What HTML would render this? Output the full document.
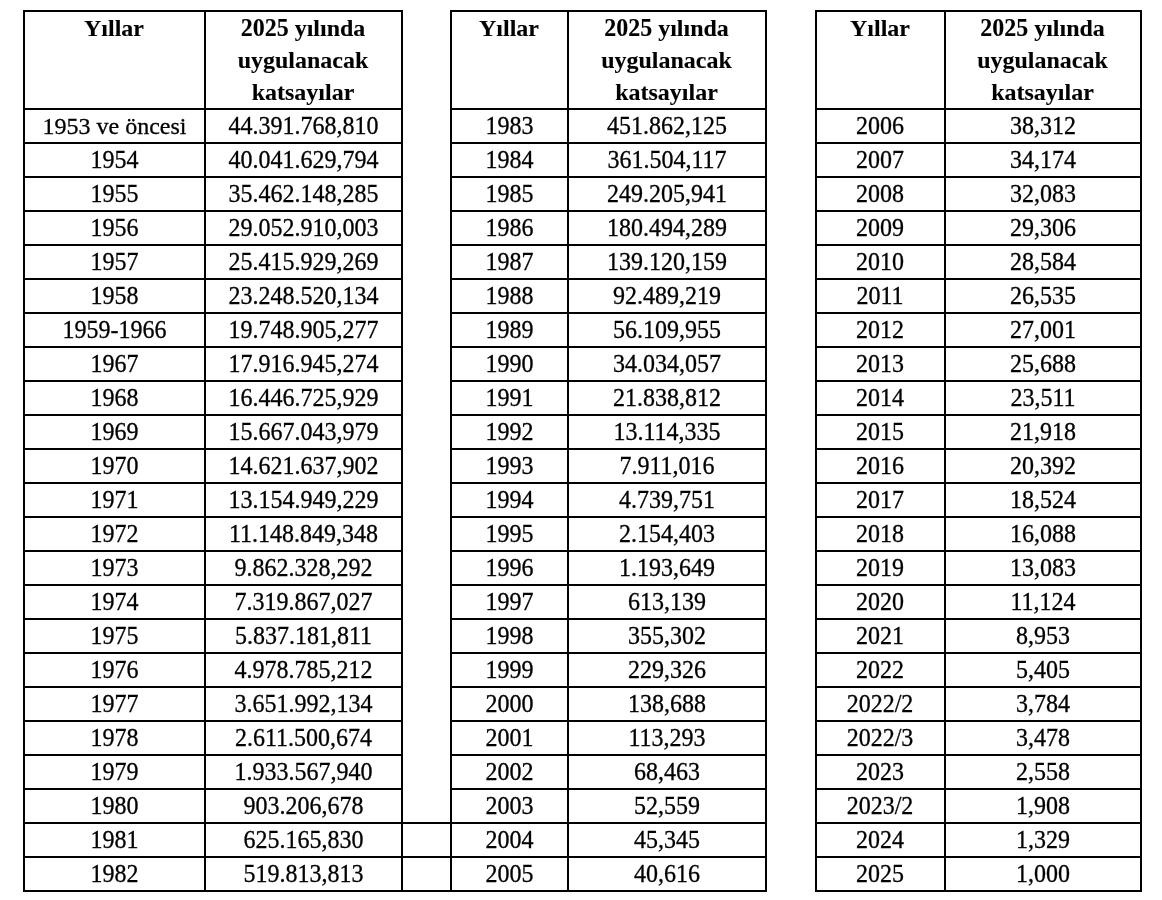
<!DOCTYPE html>
<html><head><meta charset="utf-8"><style>
html,body{margin:0;padding:0;background:#fff;}
body{width:1162px;height:900px;position:relative;overflow:hidden;will-change:transform;font-family:"Liberation Serif",serif;color:#000;}
.h{position:absolute;height:2px;background:#000;}
.v{position:absolute;width:2px;background:#000;}
.c{position:absolute;-webkit-text-stroke:0.3px #000;transform:scaleY(1.03);transform-origin:50% 25px;text-align:center;font-size:24px;line-height:34px;white-space:nowrap;}
.dg{display:inline-block;transform:scaleY(1.06);transform-origin:50% 24px;}
.hd{position:absolute;-webkit-text-stroke:0.1px #000;transform:scaleY(0.95);transform-origin:50% 24px;text-align:center;font-weight:bold;font-size:24px;line-height:32px;white-space:nowrap;}
</style></head><body>
<div class="h" style="left:23px;top:10px;width:380px"></div>
<div class="h" style="left:23px;top:108px;width:380px"></div>
<div class="h" style="left:23px;top:142px;width:380px"></div>
<div class="h" style="left:23px;top:176px;width:380px"></div>
<div class="h" style="left:23px;top:210px;width:380px"></div>
<div class="h" style="left:23px;top:244px;width:380px"></div>
<div class="h" style="left:23px;top:278px;width:380px"></div>
<div class="h" style="left:23px;top:312px;width:380px"></div>
<div class="h" style="left:23px;top:346px;width:380px"></div>
<div class="h" style="left:23px;top:380px;width:380px"></div>
<div class="h" style="left:23px;top:414px;width:380px"></div>
<div class="h" style="left:23px;top:448px;width:380px"></div>
<div class="h" style="left:23px;top:482px;width:380px"></div>
<div class="h" style="left:23px;top:516px;width:380px"></div>
<div class="h" style="left:23px;top:550px;width:380px"></div>
<div class="h" style="left:23px;top:584px;width:380px"></div>
<div class="h" style="left:23px;top:618px;width:380px"></div>
<div class="h" style="left:23px;top:652px;width:380px"></div>
<div class="h" style="left:23px;top:686px;width:380px"></div>
<div class="h" style="left:23px;top:720px;width:380px"></div>
<div class="h" style="left:23px;top:754px;width:380px"></div>
<div class="h" style="left:23px;top:788px;width:380px"></div>
<div class="h" style="left:23px;top:822px;width:380px"></div>
<div class="h" style="left:23px;top:856px;width:380px"></div>
<div class="h" style="left:23px;top:890px;width:380px"></div>
<div class="v" style="left:23px;top:10px;height:882px"></div>
<div class="v" style="left:204px;top:10px;height:882px"></div>
<div class="v" style="left:401px;top:10px;height:882px"></div>
<div class="h" style="left:450px;top:10px;width:317px"></div>
<div class="h" style="left:450px;top:108px;width:317px"></div>
<div class="h" style="left:450px;top:142px;width:317px"></div>
<div class="h" style="left:450px;top:176px;width:317px"></div>
<div class="h" style="left:450px;top:210px;width:317px"></div>
<div class="h" style="left:450px;top:244px;width:317px"></div>
<div class="h" style="left:450px;top:278px;width:317px"></div>
<div class="h" style="left:450px;top:312px;width:317px"></div>
<div class="h" style="left:450px;top:346px;width:317px"></div>
<div class="h" style="left:450px;top:380px;width:317px"></div>
<div class="h" style="left:450px;top:414px;width:317px"></div>
<div class="h" style="left:450px;top:448px;width:317px"></div>
<div class="h" style="left:450px;top:482px;width:317px"></div>
<div class="h" style="left:450px;top:516px;width:317px"></div>
<div class="h" style="left:450px;top:550px;width:317px"></div>
<div class="h" style="left:450px;top:584px;width:317px"></div>
<div class="h" style="left:450px;top:618px;width:317px"></div>
<div class="h" style="left:450px;top:652px;width:317px"></div>
<div class="h" style="left:450px;top:686px;width:317px"></div>
<div class="h" style="left:450px;top:720px;width:317px"></div>
<div class="h" style="left:450px;top:754px;width:317px"></div>
<div class="h" style="left:450px;top:788px;width:317px"></div>
<div class="h" style="left:450px;top:822px;width:317px"></div>
<div class="h" style="left:450px;top:856px;width:317px"></div>
<div class="h" style="left:450px;top:890px;width:317px"></div>
<div class="v" style="left:450px;top:10px;height:882px"></div>
<div class="v" style="left:567px;top:10px;height:882px"></div>
<div class="v" style="left:765px;top:10px;height:882px"></div>
<div class="h" style="left:815px;top:10px;width:327px"></div>
<div class="h" style="left:815px;top:108px;width:327px"></div>
<div class="h" style="left:815px;top:142px;width:327px"></div>
<div class="h" style="left:815px;top:176px;width:327px"></div>
<div class="h" style="left:815px;top:210px;width:327px"></div>
<div class="h" style="left:815px;top:244px;width:327px"></div>
<div class="h" style="left:815px;top:278px;width:327px"></div>
<div class="h" style="left:815px;top:312px;width:327px"></div>
<div class="h" style="left:815px;top:346px;width:327px"></div>
<div class="h" style="left:815px;top:380px;width:327px"></div>
<div class="h" style="left:815px;top:414px;width:327px"></div>
<div class="h" style="left:815px;top:448px;width:327px"></div>
<div class="h" style="left:815px;top:482px;width:327px"></div>
<div class="h" style="left:815px;top:516px;width:327px"></div>
<div class="h" style="left:815px;top:550px;width:327px"></div>
<div class="h" style="left:815px;top:584px;width:327px"></div>
<div class="h" style="left:815px;top:618px;width:327px"></div>
<div class="h" style="left:815px;top:652px;width:327px"></div>
<div class="h" style="left:815px;top:686px;width:327px"></div>
<div class="h" style="left:815px;top:720px;width:327px"></div>
<div class="h" style="left:815px;top:754px;width:327px"></div>
<div class="h" style="left:815px;top:788px;width:327px"></div>
<div class="h" style="left:815px;top:822px;width:327px"></div>
<div class="h" style="left:815px;top:856px;width:327px"></div>
<div class="h" style="left:815px;top:890px;width:327px"></div>
<div class="v" style="left:815px;top:10px;height:882px"></div>
<div class="v" style="left:944px;top:10px;height:882px"></div>
<div class="v" style="left:1140px;top:10px;height:882px"></div>
<div class="h" style="left:401px;top:822px;width:51px"></div>
<div class="h" style="left:401px;top:856px;width:51px"></div>
<div class="h" style="left:401px;top:890px;width:51px"></div>
<div class="hd" style="left:24.5px;width:179px;top:12px">Yıllar</div>
<div class="hd" style="left:205.5px;width:195px;top:12px"><span class="dg">2025</span> yılında</div>
<div class="hd" style="left:205.5px;width:195px;top:44px">uygulanacak</div>
<div class="hd" style="left:205.5px;width:195px;top:76px">katsayılar</div>
<div class="c" style="left:25px;width:179px;top:109px;transform:scaleY(0.95);">1953 ve öncesi</div>
<div class="c" style="left:206px;width:195px;top:109px">44.391.768,810</div>
<div class="c" style="left:25px;width:179px;top:143px;">1954</div>
<div class="c" style="left:206px;width:195px;top:143px">40.041.629,794</div>
<div class="c" style="left:25px;width:179px;top:177px;">1955</div>
<div class="c" style="left:206px;width:195px;top:177px">35.462.148,285</div>
<div class="c" style="left:25px;width:179px;top:211px;">1956</div>
<div class="c" style="left:206px;width:195px;top:211px">29.052.910,003</div>
<div class="c" style="left:25px;width:179px;top:245px;">1957</div>
<div class="c" style="left:206px;width:195px;top:245px">25.415.929,269</div>
<div class="c" style="left:25px;width:179px;top:279px;">1958</div>
<div class="c" style="left:206px;width:195px;top:279px">23.248.520,134</div>
<div class="c" style="left:25px;width:179px;top:313px;">1959-1966</div>
<div class="c" style="left:206px;width:195px;top:313px">19.748.905,277</div>
<div class="c" style="left:25px;width:179px;top:347px;">1967</div>
<div class="c" style="left:206px;width:195px;top:347px">17.916.945,274</div>
<div class="c" style="left:25px;width:179px;top:381px;">1968</div>
<div class="c" style="left:206px;width:195px;top:381px">16.446.725,929</div>
<div class="c" style="left:25px;width:179px;top:415px;">1969</div>
<div class="c" style="left:206px;width:195px;top:415px">15.667.043,979</div>
<div class="c" style="left:25px;width:179px;top:449px;">1970</div>
<div class="c" style="left:206px;width:195px;top:449px">14.621.637,902</div>
<div class="c" style="left:25px;width:179px;top:483px;">1971</div>
<div class="c" style="left:206px;width:195px;top:483px">13.154.949,229</div>
<div class="c" style="left:25px;width:179px;top:517px;">1972</div>
<div class="c" style="left:206px;width:195px;top:517px">11.148.849,348</div>
<div class="c" style="left:25px;width:179px;top:551px;">1973</div>
<div class="c" style="left:206px;width:195px;top:551px">9.862.328,292</div>
<div class="c" style="left:25px;width:179px;top:585px;">1974</div>
<div class="c" style="left:206px;width:195px;top:585px">7.319.867,027</div>
<div class="c" style="left:25px;width:179px;top:619px;">1975</div>
<div class="c" style="left:206px;width:195px;top:619px">5.837.181,811</div>
<div class="c" style="left:25px;width:179px;top:653px;">1976</div>
<div class="c" style="left:206px;width:195px;top:653px">4.978.785,212</div>
<div class="c" style="left:25px;width:179px;top:687px;">1977</div>
<div class="c" style="left:206px;width:195px;top:687px">3.651.992,134</div>
<div class="c" style="left:25px;width:179px;top:721px;">1978</div>
<div class="c" style="left:206px;width:195px;top:721px">2.611.500,674</div>
<div class="c" style="left:25px;width:179px;top:755px;">1979</div>
<div class="c" style="left:206px;width:195px;top:755px">1.933.567,940</div>
<div class="c" style="left:25px;width:179px;top:789px;">1980</div>
<div class="c" style="left:206px;width:195px;top:789px">903.206,678</div>
<div class="c" style="left:25px;width:179px;top:823px;">1981</div>
<div class="c" style="left:206px;width:195px;top:823px">625.165,830</div>
<div class="c" style="left:25px;width:179px;top:857px;">1982</div>
<div class="c" style="left:206px;width:195px;top:857px">519.813,813</div>
<div class="hd" style="left:451.5px;width:115px;top:12px">Yıllar</div>
<div class="hd" style="left:568.5px;width:196px;top:12px"><span class="dg">2025</span> yılında</div>
<div class="hd" style="left:568.5px;width:196px;top:44px">uygulanacak</div>
<div class="hd" style="left:568.5px;width:196px;top:76px">katsayılar</div>
<div class="c" style="left:452px;width:115px;top:109px;">1983</div>
<div class="c" style="left:569px;width:196px;top:109px">451.862,125</div>
<div class="c" style="left:452px;width:115px;top:143px;">1984</div>
<div class="c" style="left:569px;width:196px;top:143px">361.504,117</div>
<div class="c" style="left:452px;width:115px;top:177px;">1985</div>
<div class="c" style="left:569px;width:196px;top:177px">249.205,941</div>
<div class="c" style="left:452px;width:115px;top:211px;">1986</div>
<div class="c" style="left:569px;width:196px;top:211px">180.494,289</div>
<div class="c" style="left:452px;width:115px;top:245px;">1987</div>
<div class="c" style="left:569px;width:196px;top:245px">139.120,159</div>
<div class="c" style="left:452px;width:115px;top:279px;">1988</div>
<div class="c" style="left:569px;width:196px;top:279px">92.489,219</div>
<div class="c" style="left:452px;width:115px;top:313px;">1989</div>
<div class="c" style="left:569px;width:196px;top:313px">56.109,955</div>
<div class="c" style="left:452px;width:115px;top:347px;">1990</div>
<div class="c" style="left:569px;width:196px;top:347px">34.034,057</div>
<div class="c" style="left:452px;width:115px;top:381px;">1991</div>
<div class="c" style="left:569px;width:196px;top:381px">21.838,812</div>
<div class="c" style="left:452px;width:115px;top:415px;">1992</div>
<div class="c" style="left:569px;width:196px;top:415px">13.114,335</div>
<div class="c" style="left:452px;width:115px;top:449px;">1993</div>
<div class="c" style="left:569px;width:196px;top:449px">7.911,016</div>
<div class="c" style="left:452px;width:115px;top:483px;">1994</div>
<div class="c" style="left:569px;width:196px;top:483px">4.739,751</div>
<div class="c" style="left:452px;width:115px;top:517px;">1995</div>
<div class="c" style="left:569px;width:196px;top:517px">2.154,403</div>
<div class="c" style="left:452px;width:115px;top:551px;">1996</div>
<div class="c" style="left:569px;width:196px;top:551px">1.193,649</div>
<div class="c" style="left:452px;width:115px;top:585px;">1997</div>
<div class="c" style="left:569px;width:196px;top:585px">613,139</div>
<div class="c" style="left:452px;width:115px;top:619px;">1998</div>
<div class="c" style="left:569px;width:196px;top:619px">355,302</div>
<div class="c" style="left:452px;width:115px;top:653px;">1999</div>
<div class="c" style="left:569px;width:196px;top:653px">229,326</div>
<div class="c" style="left:452px;width:115px;top:687px;">2000</div>
<div class="c" style="left:569px;width:196px;top:687px">138,688</div>
<div class="c" style="left:452px;width:115px;top:721px;">2001</div>
<div class="c" style="left:569px;width:196px;top:721px">113,293</div>
<div class="c" style="left:452px;width:115px;top:755px;">2002</div>
<div class="c" style="left:569px;width:196px;top:755px">68,463</div>
<div class="c" style="left:452px;width:115px;top:789px;">2003</div>
<div class="c" style="left:569px;width:196px;top:789px">52,559</div>
<div class="c" style="left:452px;width:115px;top:823px;">2004</div>
<div class="c" style="left:569px;width:196px;top:823px">45,345</div>
<div class="c" style="left:452px;width:115px;top:857px;">2005</div>
<div class="c" style="left:569px;width:196px;top:857px">40,616</div>
<div class="hd" style="left:816.5px;width:127px;top:12px">Yıllar</div>
<div class="hd" style="left:945.5px;width:194px;top:12px"><span class="dg">2025</span> yılında</div>
<div class="hd" style="left:945.5px;width:194px;top:44px">uygulanacak</div>
<div class="hd" style="left:945.5px;width:194px;top:76px">katsayılar</div>
<div class="c" style="left:816.5px;width:127px;top:109px;">2006</div>
<div class="c" style="left:946px;width:194px;top:109px">38,312</div>
<div class="c" style="left:816.5px;width:127px;top:143px;">2007</div>
<div class="c" style="left:946px;width:194px;top:143px">34,174</div>
<div class="c" style="left:816.5px;width:127px;top:177px;">2008</div>
<div class="c" style="left:946px;width:194px;top:177px">32,083</div>
<div class="c" style="left:816.5px;width:127px;top:211px;">2009</div>
<div class="c" style="left:946px;width:194px;top:211px">29,306</div>
<div class="c" style="left:816.5px;width:127px;top:245px;">2010</div>
<div class="c" style="left:946px;width:194px;top:245px">28,584</div>
<div class="c" style="left:816.5px;width:127px;top:279px;">2011</div>
<div class="c" style="left:946px;width:194px;top:279px">26,535</div>
<div class="c" style="left:816.5px;width:127px;top:313px;">2012</div>
<div class="c" style="left:946px;width:194px;top:313px">27,001</div>
<div class="c" style="left:816.5px;width:127px;top:347px;">2013</div>
<div class="c" style="left:946px;width:194px;top:347px">25,688</div>
<div class="c" style="left:816.5px;width:127px;top:381px;">2014</div>
<div class="c" style="left:946px;width:194px;top:381px">23,511</div>
<div class="c" style="left:816.5px;width:127px;top:415px;">2015</div>
<div class="c" style="left:946px;width:194px;top:415px">21,918</div>
<div class="c" style="left:816.5px;width:127px;top:449px;">2016</div>
<div class="c" style="left:946px;width:194px;top:449px">20,392</div>
<div class="c" style="left:816.5px;width:127px;top:483px;">2017</div>
<div class="c" style="left:946px;width:194px;top:483px">18,524</div>
<div class="c" style="left:816.5px;width:127px;top:517px;">2018</div>
<div class="c" style="left:946px;width:194px;top:517px">16,088</div>
<div class="c" style="left:816.5px;width:127px;top:551px;">2019</div>
<div class="c" style="left:946px;width:194px;top:551px">13,083</div>
<div class="c" style="left:816.5px;width:127px;top:585px;">2020</div>
<div class="c" style="left:946px;width:194px;top:585px">11,124</div>
<div class="c" style="left:816.5px;width:127px;top:619px;">2021</div>
<div class="c" style="left:946px;width:194px;top:619px">8,953</div>
<div class="c" style="left:816.5px;width:127px;top:653px;">2022</div>
<div class="c" style="left:946px;width:194px;top:653px">5,405</div>
<div class="c" style="left:816.5px;width:127px;top:687px;">2022/2</div>
<div class="c" style="left:946px;width:194px;top:687px">3,784</div>
<div class="c" style="left:816.5px;width:127px;top:721px;">2022/3</div>
<div class="c" style="left:946px;width:194px;top:721px">3,478</div>
<div class="c" style="left:816.5px;width:127px;top:755px;">2023</div>
<div class="c" style="left:946px;width:194px;top:755px">2,558</div>
<div class="c" style="left:816.5px;width:127px;top:789px;">2023/2</div>
<div class="c" style="left:946px;width:194px;top:789px">1,908</div>
<div class="c" style="left:816.5px;width:127px;top:823px;">2024</div>
<div class="c" style="left:946px;width:194px;top:823px">1,329</div>
<div class="c" style="left:816.5px;width:127px;top:857px;">2025</div>
<div class="c" style="left:946px;width:194px;top:857px">1,000</div>
</body></html>
